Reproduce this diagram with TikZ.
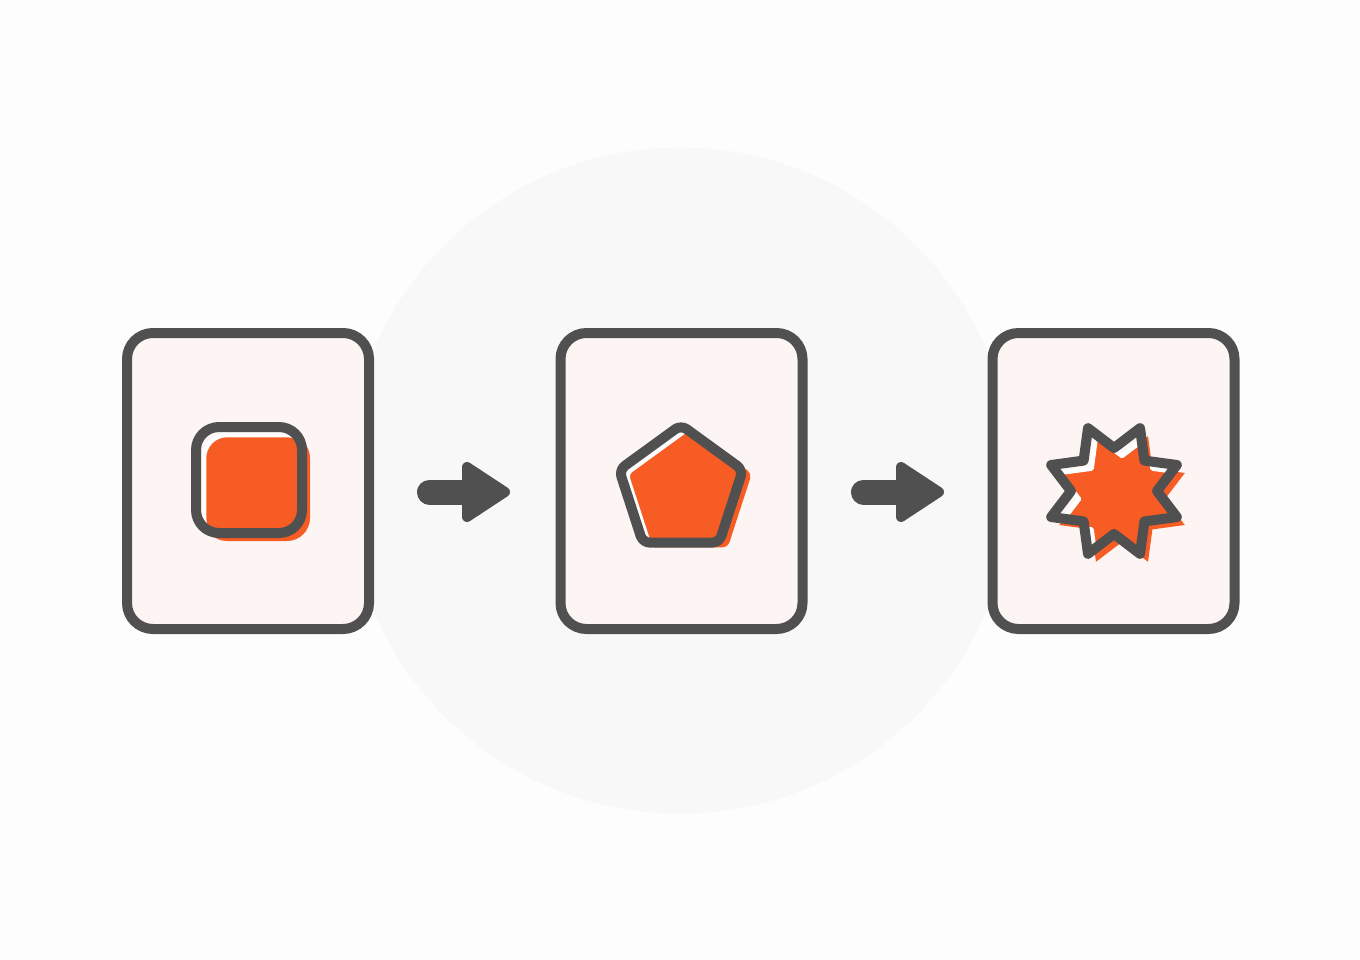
\documentclass[tikz,border=0pt]{standalone}
\definecolor{bgc}{HTML}{FDFDFD}
\definecolor{circc}{HTML}{F8F8F8}
\definecolor{cardfill}{HTML}{FDF5F3}
\definecolor{ink}{HTML}{505050}
\definecolor{accent}{HTML}{F75C24}
\begin{document}
\begin{tikzpicture}[x=1pt,y=-1pt,
  card/.style={draw=ink, line width=10pt, fill=cardfill, rounded corners=26pt,
    minimum width=242pt, minimum height=296pt, inner sep=0pt},
  outline/.style={draw=ink, line width=10pt, line join=round},
  accentfill/.style={fill=accent, line join=round},
  rim/.style={draw=white, line width=4.5pt, line join=round},
  arrowshaft/.style={draw=ink, line width=25pt, line cap=round},
  arrowhead/.style={fill=ink, draw=ink, line width=10pt, line join=round}]
% background
\useasboundingbox (0,0) rectangle (1360,960);
\fill[bgc] (0,0) rectangle (1360,960);
\fill[circc] (680,480.5) circle (333);
% cards
\node[card] (card1) at (248,481) {};
\node[card] (card2) at (681.5,481) {};
\node[card] (card3) at (1113.5,481) {};
% ---- rounded square ----
\def\sqout{[rounded corners=23pt] (196,427) rectangle (302,533)}
\def\sqacc{[rounded corners=23pt] (204,435) rectangle (310,541)}
\fill[accentfill] \sqacc;
\begin{scope}
  \clip \sqout;
  \draw[rim] \sqacc;
\end{scope}
\draw[outline] \sqout;
% ---- pentagon ----
\def\pentout{[rounded corners=7pt, shift={(681,490)}] (270:65) -- (342:65) -- (54:65) -- (126:65) -- (198:65) -- cycle}
\def\pentacc{[rounded corners=5pt, shift={(689,494)}] (270:66) -- (342:66) -- (54:66) -- (126:66) -- (198:66) -- cycle}
\fill[accentfill] \pentacc;
\begin{scope}
  \clip \pentout;
  \draw[rim] \pentacc;
\end{scope}
\draw[outline] \pentout;
% ---- star ----
\def\starout{[shift={(1114,491)}] (0:43) -- (22.5:68) -- (45:43) -- (67.5:68) -- (90:43) -- (112.5:68) -- (135:43) -- (157.5:68) -- (180:43) -- (202.5:68) -- (225:43) -- (247.5:68) -- (270:43) -- (292.5:68) -- (315:43) -- (337.5:68) -- cycle}
\def\staracc{[shift={(1122,499)}] (0:43) -- (22.5:68) -- (45:43) -- (67.5:68) -- (90:43) -- (112.5:68) -- (135:43) -- (157.5:68) -- (180:43) -- (202.5:68) -- (225:43) -- (247.5:68) -- (270:43) -- (292.5:68) -- (315:43) -- (337.5:68) -- cycle}
\fill[accentfill] \staracc;
\begin{scope}
  \clip \starout;
  \draw[rim] \staracc;
\end{scope}
\draw[outline] \starout;
% ---- arrows ----
\draw[arrowshaft] (429.5,492) -- (470,492);
\filldraw[arrowhead] (467,467) -- (505,492) -- (467,517) -- cycle;
\draw[arrowshaft] (863.5,492) -- (904,492);
\filldraw[arrowhead] (901,467) -- (939,492) -- (901,517) -- cycle;
\end{tikzpicture}
\end{document}
